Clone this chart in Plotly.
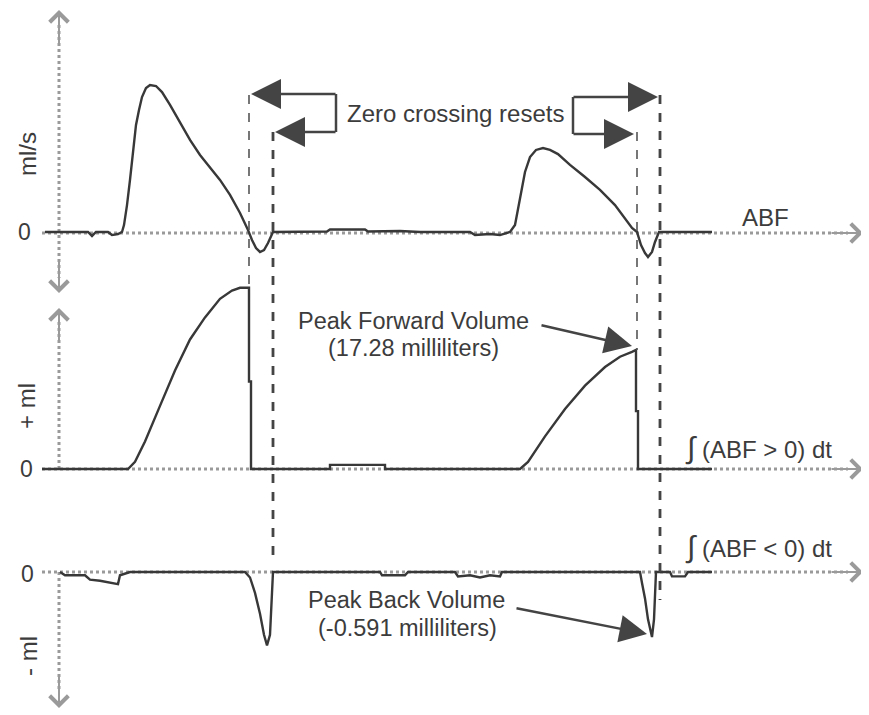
import plotly.graph_objects as go

# Page is drawn at an 8px body offset; figure sized to fill the 869x715 window.
OFF = 8
W, H = 869 - OFF, 715 - OFF

# ---- data (time in sample units, values in panel units) ----
abf_t = [45, 88, 92, 96, 108, 112, 118, 122, 124, 127, 130, 133, 136, 139, 142, 146, 150, 156, 162, 170,
         180, 190, 200, 210, 220, 230, 240, 248, 252, 256, 260, 264, 268, 273, 290, 327, 330, 365, 368,
         400, 420, 470, 475, 490, 500, 510, 515, 520, 525, 530, 536, 543, 550, 558, 570, 585, 600, 615,
         625, 632, 637, 641, 645, 648, 652, 655, 659, 700, 712]
abf_vals = [0.7, 0.7, -2.0, 0.7, 0.7, -1.4, -0.7, 0.7, 5.4, 19.0, 36.1, 56.5, 73.5, 83.7, 92.5, 98.6,
            100.7, 100.0, 95.9, 87.1, 75.5, 63.3, 53.1, 44.9, 36.1, 25.9, 13.6, 2.0, -4.8, -10.2, -12.9,
            -11.6, -6.8, 0.7, 0.7, 1.0, 2.4, 2.4, 1.0, 1.4, 0.7, 0.7, -1.4, -0.7, -1.4, 0.7, 5.4, 22.4,
            41.5, 51.7, 56.5, 57.8, 56.5, 53.7, 46.3, 38.1, 29.3, 19.0, 10.2, 3.4, 0.7, -8.2, -13.6,
            -16.3, -12.9, -6.1, 0.7, 0.7, 0.7]  # ml/s

fwd_t = [42, 128, 135, 145, 160, 175, 190, 205, 220, 232, 240, 249, 249, 251, 251, 330, 330, 385, 385,
         520, 528, 545, 565, 585, 605, 620, 632, 636, 636, 638, 638, 712]
fwd_vals = [0, 0, 1.03, 3.99, 9.16, 14.3, 18.8, 22.0, 24.7, 25.9, 26.3, 26.3, 12.7, 12.7, 0, 0, 0.6,
            0.6, 0, 0, 1.03, 4.73, 8.71, 12.1, 14.8, 16.3, 17.0, 17.28, 8.4, 8.4, 0, 0]  # ml

back_t = [60, 65, 85, 90, 100, 110, 118, 120, 130, 245, 250, 255, 260, 264, 267, 270, 272, 273, 380,
          382, 405, 408, 455, 458, 470, 480, 490, 500, 502, 640, 642, 645, 648, 652, 654, 655, 656,
          670, 672, 685, 688, 712]
back_vals = [0, -0.03, -0.03, -0.07, -0.08, -0.10, -0.11, -0.03, 0, 0, -0.05, -0.19, -0.38, -0.57,
             -0.667, -0.57, -0.24, 0, 0, -0.03, -0.03, 0, 0, -0.04, -0.03, -0.05, -0.03, -0.04, 0, 0,
             -0.10, -0.24, -0.43, -0.591, -0.43, -0.14, 0, 0, -0.04, -0.04, 0, 0]  # ml

reset_fwd = [249, 637]   # thin dashed: forward integrator resets
reset_back = [273, 660]  # thick dashed: back integrator resets

LINE = "#383838"
AX = "#9a9a9a"
BR = "#444444"
TXT = "#3c3c3c"
FONT = "Liberation Sans, Arial, sans-serif"

def P(py):
    """screen pixel row -> paper fraction"""
    return 1 - (py - OFF) / H

fig = go.Figure()
fig.add_trace(go.Scatter(x=abf_t, y=abf_vals, mode="lines", line=dict(color=LINE, width=2.4),
                         yaxis="y", showlegend=False, hoverinfo="skip"))
fig.add_trace(go.Scatter(x=fwd_t, y=fwd_vals, mode="lines", line=dict(color=LINE, width=2.4),
                         yaxis="y2", showlegend=False, hoverinfo="skip"))
fig.add_trace(go.Scatter(x=back_t, y=back_vals, mode="lines", line=dict(color=LINE, width=2.4),
                         yaxis="y3", showlegend=False, hoverinfo="skip"))

Z_TOP, Z_MID, Z_BOT = 233, 469, 572
top_dom = (OFF, 280); mid_dom = (280, 505); bot_dom = (505, 715)
def rng(dom, zero_py, scale):
    return [-(dom[1] - zero_py) / scale, (zero_py - dom[0]) / scale]

hid = dict(visible=False, showgrid=False, zeroline=False, fixedrange=True)
fig.update_layout(
    width=W, height=H, margin=dict(l=0, r=0, t=0, b=0),
    paper_bgcolor="white", plot_bgcolor="white",
    xaxis=dict(range=[OFF, 869], domain=[0, 1], **hid),
    yaxis=dict(range=rng(top_dom, Z_TOP, 1.47), domain=[P(top_dom[1]), P(top_dom[0])], anchor="x", **hid),
    yaxis2=dict(range=rng(mid_dom, Z_MID, 6.89), domain=[P(mid_dom[1]), P(mid_dom[0])], anchor="x", **hid),
    yaxis3=dict(range=rng(bot_dom, Z_BOT, 110), domain=[P(bot_dom[1]), P(bot_dom[0])], anchor="x", **hid),
    font=dict(family=FONT, color=TXT),
)

shapes = []
anns = []

def arrow(xh, pyh, xt, pyt, color, head=2, size=1.5, width=2.5):
    anns.append(dict(xref="x", yref="paper", x=xh, y=P(pyh), axref="pixel", ayref="pixel",
                     ax=xt - xh, ay=pyt - pyh, showarrow=True, arrowhead=head, arrowsize=size,
                     arrowwidth=width, arrowcolor=color, text=""))

def vline(x, py0, py1, color, width, dash=None, layer="above"):
    ln = dict(color=color, width=width)
    if dash:
        ln["dash"] = dash
    shapes.append(dict(type="line", xref="x", yref="paper", x0=x, x1=x, y0=P(py0), y1=P(py1),
                       line=ln, layer=layer))

# horizontal axes (dotted gray) with arrowheads
for zy in [Z_TOP, Z_MID, Z_BOT]:
    shapes.append(dict(type="line", xref="x", yref="paper", x0=42, x1=848, y0=P(zy), y1=P(zy),
                       line=dict(color=AX, width=3, dash="dot"), layer="below"))
    arrow(863, zy, 830, zy, AX, head=4, size=1.8, width=2)
# vertical axes
vline(59, 25, 278, AX, 3, "dot", "below")
arrow(59, 10, 59, 45, AX, head=4, size=1.8, width=2)
arrow(59, 293, 59, 258, AX, head=4, size=1.8, width=2)
vline(59, Z_MID, 322, AX, 3, "dot", "below")
arrow(59, 308, 59, 343, AX, head=4, size=1.8, width=2)
vline(59, Z_BOT, 692, AX, 3, "dot", "below")
arrow(59, 708, 59, 673, AX, head=4, size=1.8, width=2)

# dashed reset lines
vline(reset_fwd[0], 95, 290, "#555", 1.6, "dash")
vline(reset_fwd[1], 132, 350, "#555", 1.6, "dash")
vline(reset_back[0], 132, 560, "#444", 2.8, "dash")
vline(reset_back[1], 95, 600, "#444", 2.8, "dash")

# bracket arrows "Zero crossing resets"
vline(336, 94, 132, BR, 2.5)
vline(573, 97, 134, BR, 2.5)
for (x0, x1, py) in [(337, 251, 94), (337, 275, 132), (572, 658, 97), (572, 634, 134)]:
    arrow(x1, py, x0, py, BR, head=2, size=2.4, width=2.5)

# pointer arrows
arrow(632, 346, 540, 325, BR, head=2, size=2.2, width=2.5)
arrow(647, 634, 515, 608, BR, head=2, size=2.2, width=2.5)

def txt(x, py, s, size=22, **kw):
    d = dict(xref="x", yref="paper", x=x, y=P(py), text=s, showarrow=False,
             xanchor="center", yanchor="middle",
             font=dict(size=size, family=FONT, color=TXT))
    d.update(kw)
    anns.append(d)

txt(455, 113, "Zero crossing resets", 24)
txt(765, 217, "ABF", 24)
txt(413, 321, "Peak Forward Volume", 23.5)
txt(413, 348, "(17.28 milliliters)", 23.5)
txt(406, 600, "Peak Back Volume", 23.5)
txt(407, 628, "(-0.591 milliliters)", 23.5)
txt(758, 448, "<span style='font-size:30px'>∫</span> (ABF &gt; 0) dt", 24)
txt(758, 547, "<span style='font-size:30px'>∫</span> (ABF &lt; 0) dt", 24)
txt(24, 232, "0", 23)
txt(26, 469, "0", 23)
txt(27, 574, "0", 23)
txt(27, 154, "ml/s", 24, textangle=-90)
txt(26, 406, "+ ml", 24, textangle=-90)
txt(28, 656, "- ml", 24, textangle=-90)

fig.update_layout(shapes=shapes, annotations=anns)
fig.write_html("out.html")
